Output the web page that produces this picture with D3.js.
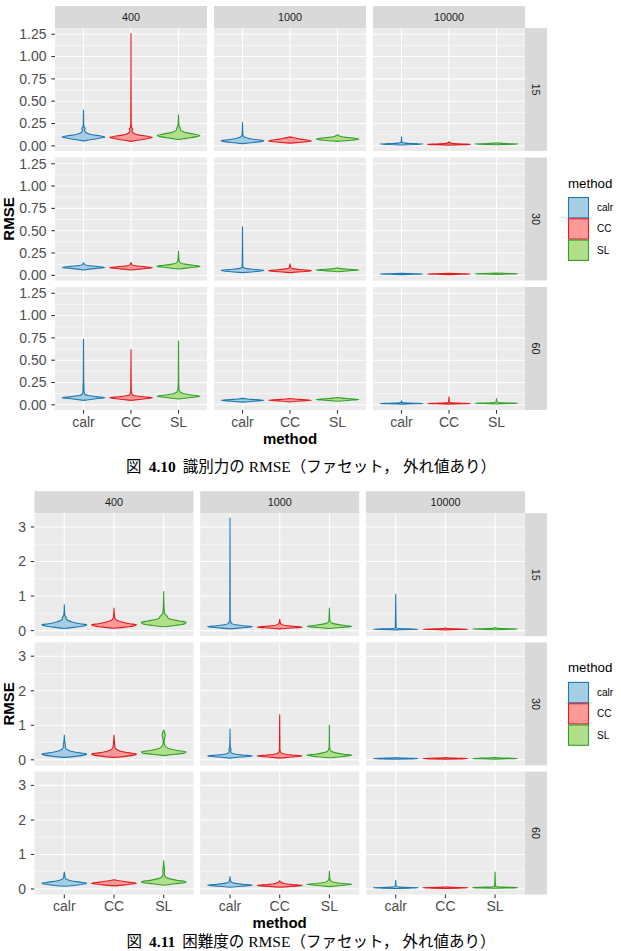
<!DOCTYPE html>
<html>
<head>
<meta charset="utf-8">
<script src="https://cdn.jsdelivr.net/npm/d3@7"></script>
<style>
  body { margin: 0; background: #fff; }
  text { font-family: "Liberation Sans", Arial, sans-serif; }
</style>
</head>
<body>
<svg id="fig" width="621" height="951"></svg>
<script>

var sampleSizes = ['400', '1000', '10000'];
var itemCounts = ['15', '30', '60'];
var methods = ['calr', 'CC', 'SL'];
var lineColors = ['#1f78b4', '#e31a1c', '#33a02c'];
var fillColors = ['#a6cee3', '#fb9a99', '#b2df8a'];

var discTicks = [0, 0.25, 0.5, 0.75, 1, 1.25];
var discMinor = [0.125, 0.375, 0.625, 0.875, 1.125];
var diffTicks = [0, 1, 2, 3];
var diffMinor = [0.5, 1.5, 2.5];

// violin profiles: [RMSE, relative density]
// indexed [item count][sample size][method]
var discViolins = [
  [ // 15 items
    [
      [[0.055,0],[0.07,0.4],[0.09,0.85],[0.10,1],[0.11,0.8],[0.125,0.4],[0.14,0.17],[0.16,0.07],[0.18,0.05],[0.195,0.08],[0.21,0.03],[0.25,0.01],[0.40,0]],
      [[0.05,0],[0.065,0.4],[0.085,0.85],[0.095,1],[0.105,0.8],[0.12,0.4],[0.135,0.17],[0.155,0.07],[0.175,0.05],[0.19,0.08],[0.205,0.03],[0.25,0.01],[1.257,0]],
      [[0.07,0],[0.085,0.4],[0.10,0.8],[0.115,1],[0.13,0.75],[0.145,0.4],[0.16,0.2],[0.18,0.08],[0.195,0.09],[0.21,0.05],[0.25,0.015],[0.345,0]]
    ],
    [
      [[0.025,0],[0.035,0.4],[0.05,0.9],[0.058,1],[0.068,0.7],[0.08,0.35],[0.095,0.12],[0.11,0.04],[0.14,0.015],[0.26,0]],
      [[0.03,0],[0.04,0.5],[0.055,1],[0.065,0.8],[0.075,0.5],[0.09,0.2],[0.10,0]],
      [[0.05,0],[0.06,0.5],[0.075,1],[0.085,0.8],[0.095,0.4],[0.105,0.15],[0.115,0.06],[0.125,0]]
    ],
    [
      [[0.01,0],[0.015,0.6],[0.02,1],[0.025,0.6],[0.03,0.15],[0.04,0.03],[0.05,0.01],[0.10,0]],
      [[0.008,0],[0.012,0.6],[0.016,1],[0.02,0.6],[0.027,0.15],[0.035,0.04],[0.045,0]],
      [[0.012,0],[0.016,0.6],[0.02,1],[0.024,0.6],[0.03,0.1],[0.035,0]]
    ]
  ],
  [ // 30 items
    [
      [[0.06,0],[0.075,0.5],[0.088,1],[0.10,0.6],[0.11,0.2],[0.12,0.06],[0.13,0.03],[0.14,0]],
      [[0.06,0],[0.072,0.5],[0.085,1],[0.097,0.6],[0.107,0.2],[0.117,0.06],[0.128,0.03],[0.14,0]],
      [[0.07,0],[0.085,0.5],[0.10,1],[0.112,0.7],[0.125,0.3],[0.14,0.1],[0.16,0.04],[0.20,0.015],[0.27,0]]
    ],
    [
      [[0.03,0],[0.04,0.5],[0.055,1],[0.065,0.6],[0.075,0.2],[0.085,0.05],[0.10,0.015],[0.545,0]],
      [[0.03,0],[0.04,0.5],[0.052,1],[0.062,0.6],[0.072,0.2],[0.085,0.04],[0.13,0]],
      [[0.04,0],[0.05,0.5],[0.06,1],[0.068,0.5],[0.075,0.15],[0.085,0]]
    ],
    [
      [[0.008,0],[0.012,0.6],[0.015,1],[0.018,0.6],[0.022,0]],
      [[0.008,0],[0.012,0.6],[0.015,1],[0.018,0.6],[0.022,0]],
      [[0.01,0],[0.014,0.6],[0.017,1],[0.02,0.6],[0.025,0]]
    ]
  ],
  [ // 60 items
    [
      [[0.05,0],[0.065,0.5],[0.08,1],[0.092,0.6],[0.105,0.2],[0.12,0.06],[0.15,0.025],[0.20,0.02],[0.30,0.008],[0.734,0]],
      [[0.05,0],[0.063,0.5],[0.078,1],[0.09,0.6],[0.102,0.2],[0.115,0.06],[0.14,0.02],[0.20,0.01],[0.62,0]],
      [[0.065,0],[0.08,0.5],[0.097,1],[0.11,0.6],[0.125,0.25],[0.145,0.07],[0.18,0.025],[0.25,0.01],[0.715,0]]
    ],
    [
      [[0.03,0],[0.04,0.5],[0.05,1],[0.058,0.6],[0.065,0.2],[0.072,0]],
      [[0.032,0],[0.042,0.5],[0.05,1],[0.058,0.6],[0.065,0.2],[0.07,0]],
      [[0.04,0],[0.05,0.5],[0.06,1],[0.068,0.6],[0.075,0.2],[0.082,0]]
    ],
    [
      [[0.008,0],[0.012,0.6],[0.015,1],[0.018,0.6],[0.022,0.1],[0.03,0.02],[0.045,0]],
      [[0.008,0],[0.012,0.6],[0.015,1],[0.018,0.6],[0.022,0.1],[0.03,0.02],[0.09,0]],
      [[0.01,0],[0.014,0.6],[0.017,1],[0.02,0.6],[0.025,0.1],[0.032,0.02],[0.07,0]]
    ]
  ]
];

var diffViolins = [
  [ // 15 items
    [
      [[0.06,0],[0.10,0.5],[0.15,0.95],[0.17,1],[0.20,0.7],[0.25,0.35],[0.30,0.15],[0.35,0.08],[0.38,0.09],[0.42,0.04],[0.50,0.015],[0.745,0]],
      [[0.07,0],[0.10,0.5],[0.15,0.95],[0.17,1],[0.20,0.7],[0.25,0.35],[0.30,0.12],[0.35,0.05],[0.42,0.02],[0.65,0]],
      [[0.11,0],[0.15,0.5],[0.20,0.95],[0.24,1],[0.28,0.7],[0.32,0.35],[0.36,0.2],[0.40,0.17],[0.44,0.12],[0.50,0.04],[0.70,0.015],[1.13,0]]
    ],
    [
      [[0.05,0],[0.08,0.5],[0.11,1],[0.14,0.6],[0.17,0.25],[0.20,0.08],[0.25,0.04],[0.30,0.01],[3.26,0]],
      [[0.05,0],[0.075,0.5],[0.10,1],[0.125,0.6],[0.15,0.25],[0.18,0.08],[0.22,0.03],[0.33,0]],
      [[0.06,0],[0.09,0.5],[0.12,1],[0.15,0.7],[0.18,0.35],[0.21,0.15],[0.25,0.05],[0.30,0.02],[0.65,0]]
    ],
    [
      [[0.02,0],[0.03,0.6],[0.04,1],[0.05,0.6],[0.06,0.15],[0.08,0.02],[1.05,0]],
      [[0.02,0],[0.03,0.6],[0.04,1],[0.05,0.5],[0.06,0.1],[0.08,0]],
      [[0.025,0],[0.035,0.6],[0.045,1],[0.055,0.5],[0.065,0.1],[0.09,0]]
    ]
  ],
  [ // 30 items
    [
      [[0.07,0],[0.10,0.5],[0.15,0.95],[0.17,1],[0.20,0.7],[0.25,0.3],[0.30,0.12],[0.35,0.05],[0.45,0.04],[0.55,0.015],[0.72,0]],
      [[0.07,0],[0.10,0.5],[0.15,0.95],[0.17,1],[0.20,0.7],[0.25,0.3],[0.30,0.12],[0.35,0.05],[0.45,0.03],[0.55,0.015],[0.72,0]],
      [[0.12,0],[0.16,0.5],[0.20,0.95],[0.23,1],[0.27,0.6],[0.32,0.25],[0.38,0.1],[0.45,0.04],[0.55,0.02],[0.65,0.05],[0.72,0.07],[0.80,0.04],[0.86,0]]
    ],
    [
      [[0.05,0],[0.08,0.5],[0.11,1],[0.14,0.55],[0.17,0.2],[0.20,0.07],[0.25,0.03],[0.30,0.05],[0.35,0.02],[0.45,0.01],[0.89,0]],
      [[0.05,0],[0.08,0.5],[0.11,1],[0.14,0.55],[0.17,0.2],[0.20,0.07],[0.25,0.02],[0.35,0.01],[1.30,0]],
      [[0.06,0],[0.09,0.5],[0.13,1],[0.16,0.65],[0.20,0.3],[0.24,0.1],[0.30,0.03],[0.40,0.01],[1.01,0]]
    ],
    [
      [[0.015,0],[0.025,0.6],[0.035,1],[0.045,0.6],[0.055,0.1],[0.07,0]],
      [[0.015,0],[0.025,0.6],[0.035,1],[0.045,0.6],[0.055,0.1],[0.07,0]],
      [[0.02,0],[0.03,0.6],[0.04,1],[0.05,0.6],[0.06,0.1],[0.075,0]]
    ]
  ],
  [ // 60 items
    [
      [[0.08,0],[0.11,0.5],[0.15,0.95],[0.17,1],[0.20,0.7],[0.24,0.3],[0.28,0.1],[0.33,0.04],[0.40,0.02],[0.49,0]],
      [[0.09,0],[0.12,0.5],[0.15,0.9],[0.17,1],[0.20,0.65],[0.23,0.3],[0.27,0]],
      [[0.11,0],[0.15,0.5],[0.19,0.95],[0.21,1],[0.25,0.6],[0.30,0.25],[0.35,0.08],[0.45,0.03],[0.55,0.04],[0.60,0.03],[0.70,0.01],[0.82,0]]
    ],
    [
      [[0.05,0],[0.08,0.5],[0.11,1],[0.14,0.55],[0.17,0.2],[0.20,0.06],[0.26,0.02],[0.36,0]],
      [[0.05,0],[0.075,0.5],[0.10,1],[0.13,0.55],[0.16,0.2],[0.20,0.05],[0.24,0]],
      [[0.07,0],[0.10,0.5],[0.135,1],[0.16,0.6],[0.19,0.25],[0.23,0.08],[0.30,0.02],[0.51,0]]
    ],
    [
      [[0.015,0],[0.025,0.6],[0.035,1],[0.045,0.6],[0.055,0.15],[0.08,0.02],[0.25,0]],
      [[0.015,0],[0.025,0.6],[0.035,1],[0.045,0.6],[0.055,0.1],[0.065,0]],
      [[0.02,0],[0.03,0.6],[0.04,1],[0.05,0.6],[0.06,0.15],[0.08,0.02],[0.49,0]]
    ]
  ]
];

var svg = d3.select('#fig');

function drawFacets(opt) {
  var g = svg.append('g');
  var stripH = 22;
  var rightEdge = opt.left + 2 * opt.colStep + opt.panelW;
  var bottomEdge = opt.panelTop + 2 * opt.rowStep + opt.panelH;

  // column strips
  sampleSizes.forEach(function (s, c) {
    var x0 = opt.left + c * opt.colStep;
    g.append('rect')
      .attr('x', x0).attr('y', opt.panelTop - stripH)
      .attr('width', opt.panelW).attr('height', stripH)
      .attr('fill', '#d9d9d9');
    g.append('text')
      .attr('x', x0 + opt.panelW / 2).attr('y', opt.panelTop - stripH / 2)
      .attr('dy', '0.35em').attr('text-anchor', 'middle')
      .attr('font-size', 10.8).attr('fill', '#1a1a1a')
      .text(s);
  });

  itemCounts.forEach(function (it, r) {
    var top = opt.panelTop + r * opt.rowStep;
    var y = d3.scaleLinear().domain(opt.domain).range([top + opt.panelH, top]);

    // row strip on the right
    g.append('rect')
      .attr('x', rightEdge).attr('y', top)
      .attr('width', stripH).attr('height', opt.panelH)
      .attr('fill', '#d9d9d9');
    g.append('text')
      .attr('transform', 'translate(' + (rightEdge + stripH / 2) + ',' + (top + opt.panelH / 2) + ') rotate(90)')
      .attr('dy', '0.35em').attr('text-anchor', 'middle')
      .attr('font-size', 10.8).attr('fill', '#1a1a1a')
      .text(it);

    // y axis
    opt.ticks.forEach(function (t) {
      g.append('line')
        .attr('x1', opt.left - 3.7).attr('x2', opt.left)
        .attr('y1', y(t)).attr('y2', y(t))
        .attr('stroke', '#333').attr('stroke-width', 1.07);
      g.append('text')
        .attr('x', opt.left - 8.5).attr('y', y(t))
        .attr('dy', '0.35em').attr('text-anchor', 'end')
        .attr('font-size', 14).attr('fill', '#4d4d4d')
        .text(opt.format(t));
    });

    sampleSizes.forEach(function (s, c) {
      var x0 = opt.left + c * opt.colStep;
      var x = d3.scalePoint().domain(methods).range([x0, x0 + opt.panelW]).padding(0.6);
      var half = 0.45 * x.step();

      g.append('rect')
        .attr('x', x0).attr('y', top)
        .attr('width', opt.panelW).attr('height', opt.panelH)
        .attr('fill', '#ebebeb');

      opt.minor.forEach(function (t) {
        g.append('line')
          .attr('x1', x0).attr('x2', x0 + opt.panelW)
          .attr('y1', y(t)).attr('y2', y(t))
          .attr('stroke', '#fff').attr('stroke-width', 0.55);
      });
      opt.ticks.forEach(function (t) {
        g.append('line')
          .attr('x1', x0).attr('x2', x0 + opt.panelW)
          .attr('y1', y(t)).attr('y2', y(t))
          .attr('stroke', '#fff').attr('stroke-width', 1.1);
      });
      methods.forEach(function (m) {
        g.append('line')
          .attr('x1', x(m)).attr('x2', x(m))
          .attr('y1', top).attr('y2', top + opt.panelH)
          .attr('stroke', '#fff').attr('stroke-width', 1.1);
      });

      methods.forEach(function (m, k) {
        var prof = opt.violins[r][c][k];
        var area = d3.area()
          .y(function (d) { return y(d[0]); })
          .x0(function (d) { return x(m) - half * d[1]; })
          .x1(function (d) { return x(m) + half * d[1]; })
          .curve(d3.curveMonotoneY);
        g.append('path')
          .attr('d', area(prof))
          .attr('fill', fillColors[k])
          .attr('stroke', lineColors[k])
          .attr('stroke-width', 1.1)
          .attr('stroke-linejoin', 'round');
      });

      // x axis under the last row
      if (r === itemCounts.length - 1) {
        methods.forEach(function (m) {
          g.append('line')
            .attr('x1', x(m)).attr('x2', x(m))
            .attr('y1', bottomEdge).attr('y2', bottomEdge + 3.7)
            .attr('stroke', '#333').attr('stroke-width', 1.07);
          g.append('text')
            .attr('x', x(m)).attr('y', bottomEdge + 16.8)
            .attr('text-anchor', 'middle')
            .attr('font-size', 14).attr('fill', '#4d4d4d')
            .text(m);
        });
      }
    });
  });

  // axis titles
  g.append('text')
    .attr('x', (opt.left + rightEdge) / 2).attr('y', bottomEdge + 33.8)
    .attr('text-anchor', 'middle')
    .attr('font-size', 15).attr('font-weight', 'bold').attr('fill', '#000')
    .text('method');
  g.append('text')
    .attr('transform', 'translate(9,' + ((opt.panelTop + bottomEdge) / 2) + ') rotate(-90)')
    .attr('dy', '0.35em').attr('text-anchor', 'middle')
    .attr('font-size', 15).attr('font-weight', 'bold').attr('fill', '#000')
    .text('RMSE');

  // legend
  var mid = (opt.panelTop + bottomEdge) / 2;
  var lg = g.append('g').attr('transform', 'translate(568,' + (mid - 42) + ')');
  lg.append('text')
    .attr('x', 0).attr('y', 10.5)
    .attr('font-size', 13.3).attr('fill', '#000')
    .text('method');
  methods.forEach(function (m, k) {
    lg.append('rect')
      .attr('x', 0.5).attr('y', 20 + k * 21.3 + 0.5)
      .attr('width', 20).attr('height', 20.3)
      .attr('fill', fillColors[k])
      .attr('stroke', lineColors[k]).attr('stroke-width', 1.1);
    lg.append('text')
      .attr('x', 29).attr('y', 20 + k * 21.3 + 10.6)
      .attr('dy', '0.35em')
      .attr('font-size', 10).attr('fill', '#000')
      .text(m);
  });

  // caption, with the wide gaps of the typeset original
  var cap = svg.append('text')
    .attr('x', 311).attr('y', opt.captionY)
    .attr('text-anchor', 'middle')
    .attr('font-size', 15.5).attr('fill', '#000')
    .style('font-family', '"Liberation Serif", "Noto Sans CJK JP", serif');
  cap.append('tspan').text('図');
  cap.append('tspan').attr('dx', 7).attr('font-weight', 'bold').text(opt.figNo);
  cap.append('tspan').attr('dx', 7).text(opt.caption[0]);
  cap.append('tspan').attr('dx', 4).text(opt.caption[1]);
}

drawFacets({
  left: 55, panelW: 152, colStep: 159,
  panelTop: 28, panelH: 123, rowStep: 129.5,
  domain: [-0.058, 1.32],
  ticks: discTicks, minor: discMinor,
  format: d3.format('.2f'),
  violins: discViolins,
  captionY: 471.5, figNo: '4.10',
  caption: ['識別力の RMSE（ファセット，', '外れ値あり）']
});

drawFacets({
  left: 34.5, panelW: 159, colStep: 165.7,
  panelTop: 513.2, panelH: 123, rowStep: 129.2,
  domain: [-0.162, 3.40],
  ticks: diffTicks, minor: diffMinor,
  format: d3.format('d'),
  violins: diffViolins,
  captionY: 946.5, figNo: '4.11',
  caption: ['困難度の RMSE（ファセット，', '外れ値あり）']
});

</script>
</body>
</html>
